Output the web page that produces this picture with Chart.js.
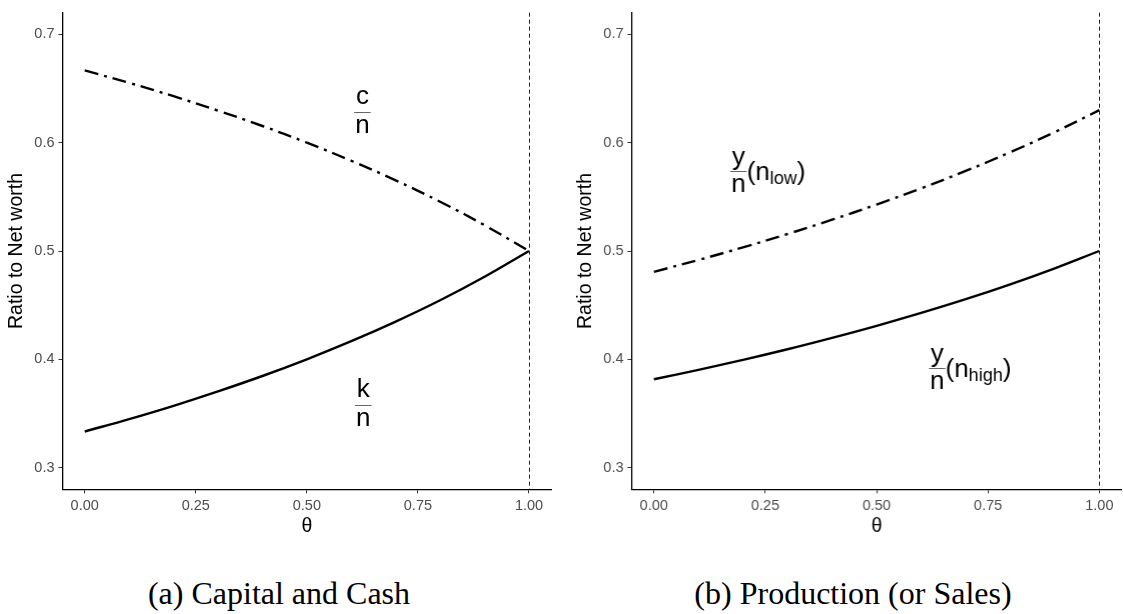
<!DOCTYPE html>
<html><head><meta charset="utf-8">
<script src="https://cdn.jsdelivr.net/npm/chart.js@4"></script>
<style>
html,body{margin:0;padding:0;background:#fff;width:1123px;height:614px;overflow:hidden}
.panel{position:absolute;top:0;height:540px}
#pa{left:0;width:561px}
#pb{left:569.3px;width:553.7px}
.cap{position:absolute;top:576px;line-height:34px;font-family:"Liberation Serif",serif;font-size:32px;color:#000;white-space:nowrap;transform:translateX(-50%)}
</style></head><body>
<div class="panel" id="pa"><canvas id="ca"></canvas></div>
<div class="panel" id="pb"><canvas id="cb"></canvas></div>
<div class="cap" style="left:279px">(a) Capital and Cash</div>
<div class="cap" style="left:853px">(b) Production (or Sales)</div>
<script>
// ---- data ----
const theta        = [0, 0.1, 0.2, 0.3, 0.4, 0.5, 0.6, 0.7, 0.8, 0.9, 1.0];
const capitalRatio = [0.3333, 0.3448, 0.3571, 0.3704, 0.3846, 0.4000, 0.4167, 0.4348, 0.4545, 0.4762, 0.5000]; // k/n
const cashRatio    = [0.6667, 0.6552, 0.6429, 0.6296, 0.6154, 0.6000, 0.5833, 0.5652, 0.5455, 0.5238, 0.5000]; // c/n
const outputHigh   = [0.3816, 0.3903, 0.3995, 0.4093, 0.4198, 0.4309, 0.4428, 0.4555, 0.4692, 0.4840, 0.5000]; // y/n (n_high)
const outputLow    = [0.4808, 0.4917, 0.5034, 0.5157, 0.5289, 0.5429, 0.5579, 0.5739, 0.5912, 0.6098, 0.6300]; // y/n (n_low)
const xTickValues  = [0, 0.25, 0.5, 0.75, 1];
const xTickLabels  = ['0.00', '0.25', '0.50', '0.75', '1.00'];
const yTickValues  = [0.3, 0.4, 0.5, 0.6, 0.7];
const yTickLabels  = ['0.3', '0.4', '0.5', '0.6', '0.7'];
const thetaMarker  = [1];
const yAxisTitle   = 'Ratio to Net worth';
const xAxisTitle   = 'θ';

const pts = (xs, ys) => xs.map((x, i) => ({x: x, y: ys[i]}));

// vertical dashed marker at theta = 1
const vlinePlugin = {
  id: 'vline',
  afterDatasetsDraw(chart) {
    const {ctx, chartArea, scales} = chart;
    ctx.save();
    ctx.strokeStyle = '#222';
    ctx.lineWidth = 1;
    ctx.setLineDash([4, 3]);
    thetaMarker.forEach(v => {
      const px = Math.round(scales.x.getPixelForValue(v)) + 0.5;
      ctx.beginPath();
      ctx.moveTo(px, chartArea.top);
      ctx.lineTo(px, chartArea.bottom);
      ctx.stroke();
    });
    ctx.restore();
  }
};

// fraction-style text labels
const BIG = '26px "Liberation Sans", Arial, sans-serif';
const SMALL = '18px "Liberation Sans", Arial, sans-serif';
const fracPlugin = {
  id: 'frac',
  afterDatasetsDraw(chart, args, opts) {
    const {ctx, scales} = chart;
    (opts.items || []).forEach(it => {
      const cx = scales.x.getPixelForValue(it.x);
      const cy = scales.y.getPixelForValue(it.y);
      ctx.save();
      ctx.fillStyle = '#000';
      ctx.font = BIG;
      ctx.textBaseline = 'alphabetic';
      const w = Math.max(ctx.measureText(it.num).width, ctx.measureText(it.den).width);
      ctx.textAlign = 'center';
      ctx.fillText(it.num, cx, cy - (it.num === 'y' ? 6 : 8));
      ctx.fillText(it.den, cx, cy + 21);
      ctx.strokeStyle = '#666';
      ctx.lineWidth = 1;
      ctx.beginPath();
      ctx.moveTo(cx - w / 2 - 1, Math.round(cy) + 0.5);
      ctx.lineTo(cx + w / 2 + 1, Math.round(cy) + 0.5);
      ctx.stroke();
      if (it.sub) {
        ctx.textAlign = 'left';
        let x0 = cx + w / 2 + 1;
        const base = cy + 9;
        ctx.fillText('(n', x0, base);
        x0 += ctx.measureText('(n').width;
        ctx.font = SMALL;
        ctx.fillText(it.sub, x0, base + 4);
        x0 += ctx.measureText(it.sub).width;
        ctx.font = BIG;
        ctx.fillText(')', x0, base);
      }
      ctx.restore();
    });
  }
};

function makeChart(id, datasets, labels, padRight) {
  return new Chart(document.getElementById(id), {
    type: 'line',
    data: {datasets: datasets},
    plugins: [vlinePlugin, fracPlugin],
    options: {
      responsive: true,
      maintainAspectRatio: false,
      animation: false,
      layout: {padding: {top: 1.6, right: padRight, left: 0, bottom: 0}},
      plugins: {
        legend: {display: false},
        tooltip: {enabled: false},
        frac: {items: labels}
      },
      elements: {point: {radius: 0}, line: {tension: 0.4, borderCapStyle: 'butt', borderJoinStyle: 'round'}},
      scales: {
        x: {
          type: 'linear', min: -0.05, max: 1.05,
          afterBuildTicks: s => { s.ticks = xTickValues.map(v => ({value: v})); },
          afterFit: s => { s.height = 50.7; },
          grid: {display: true, drawOnChartArea: false, drawTicks: true, tickLength: 4, color: '#333', lineWidth: 1},
          border: {display: true, color: '#000', width: 1.3},
          ticks: {
            padding: 4, color: '#4d4d4d', maxRotation: 0, autoSkip: false,
            font: {family: '"Liberation Sans", Arial, sans-serif', size: 14.5},
            callback: (v) => xTickLabels[xTickValues.indexOf(v)]
          },
          title: {display: true, text: xAxisTitle, color: '#000', padding: {top: 0, bottom: 1.3},
                  font: {family: '"Liberation Sans", Arial, sans-serif', size: 19.5}}
        },
        y: {
          type: 'linear', min: 0.28, max: 0.72,
          afterBuildTicks: s => { s.ticks = yTickValues.map(v => ({value: v})); },
          afterFit: s => { s.width = 62.5; },
          grid: {display: true, drawOnChartArea: false, drawTicks: true, tickLength: 4, color: '#333', lineWidth: 1},
          border: {display: true, color: '#000', width: 1.3},
          ticks: {
            padding: 4, color: '#4d4d4d', autoSkip: false,
            font: {family: '"Liberation Sans", Arial, sans-serif', size: 14.5},
            callback: (v) => yTickLabels[yTickValues.indexOf(v)]
          },
          title: {display: true, text: yAxisTitle, color: '#000', padding: {top: 5, bottom: 0},
                  font: {family: '"Liberation Sans", Arial, sans-serif', size: 19.5}}
        }
      }
    }
  });
}

makeChart('ca', [
  {label: 'c/n', data: pts(theta, cashRatio), borderColor: '#000', borderWidth: 2.4, borderDash: [14, 6, 3, 6], fill: false},
  {label: 'k/n', data: pts(theta, capitalRatio), borderColor: '#000', borderWidth: 2.4, fill: false}
], [
  {x: 0.625, y: 0.6285, num: 'c', den: 'n'},
  {x: 0.627, y: 0.3577, num: 'k', den: 'n'}
], 9.8);

makeChart('cb', [
  {label: 'y/n low', data: pts(theta, outputLow), borderColor: '#000', borderWidth: 2.4, borderDash: [14, 6, 3, 6], fill: false},
  {label: 'y/n high', data: pts(theta, outputHigh), borderColor: '#000', borderWidth: 2.4, fill: false}
], [
  {x: 0.19, y: 0.5734, num: 'y', den: 'n', sub: 'low'},
  {x: 0.636, y: 0.392, num: 'y', den: 'n', sub: 'high'}
], 2.1);
</script>
</body></html>
